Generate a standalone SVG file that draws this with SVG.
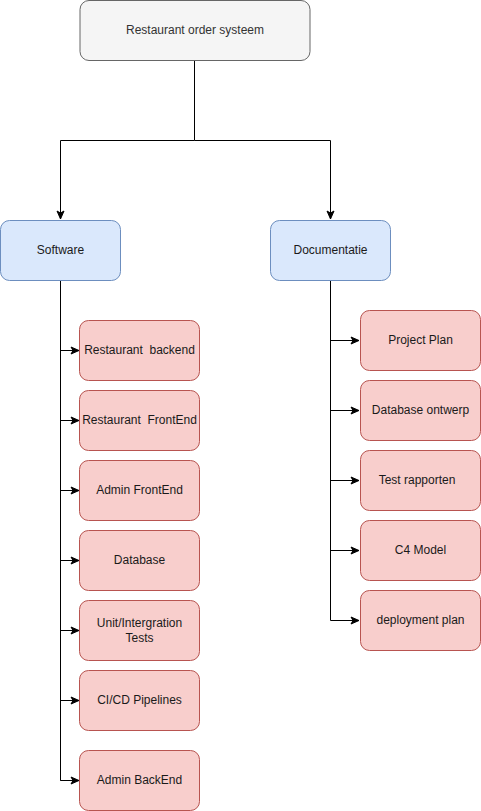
<svg xmlns="http://www.w3.org/2000/svg" width="481" height="811" viewBox="0 0 481 811">
<defs>
<marker id="arr" markerUnits="userSpaceOnUse" markerWidth="10" markerHeight="10" viewBox="0 0 10 10" refX="9" refY="5" orient="auto">
<path d="M1,1.5 L9,5 L1,8.5 L3,5 Z" fill="#000" stroke="#000" stroke-width="1"/>
</marker>
</defs>
<style>
text{font-family:"Liberation Sans",Arial,Helvetica,sans-serif;font-size:12px;text-anchor:middle;dominant-baseline:central;white-space:pre}
.root rect{fill:#f5f5f5;stroke:#666666}
.root text{fill:#333333}
.cat rect{fill:#dae8fc;stroke:#6c8ebf}
.item rect{fill:#f8cecc;stroke:#b85450}
.cat text,.item text{fill:#1a1a1a}
.edge{fill:none;stroke:#000;stroke-width:1}
</style>
<g id="connectors">
<path class="edge" d="M194.5,60.5 V140.5 H60.5 V219" marker-end="url(#arr)"/>
<path class="edge" d="M194.5,140.5 H330.5 V219" marker-end="url(#arr)"/>
<path class="edge" d="M60.5,280.5 V780.5 H79"/>
<path class="edge" d="M60.5,350.5 H79" marker-end="url(#arr)"/>
<path class="edge" d="M60.5,420.5 H79" marker-end="url(#arr)"/>
<path class="edge" d="M60.5,490.5 H79" marker-end="url(#arr)"/>
<path class="edge" d="M60.5,560.5 H79" marker-end="url(#arr)"/>
<path class="edge" d="M60.5,630.5 H79" marker-end="url(#arr)"/>
<path class="edge" d="M60.5,700.5 H79" marker-end="url(#arr)"/>
<path class="edge" d="M60.5,780.5 H79" marker-end="url(#arr)"/>
<path class="edge" d="M330.5,280.5 V620.5"/>
<path class="edge" d="M330.5,340.5 H359" marker-end="url(#arr)"/>
<path class="edge" d="M330.5,410.5 H359" marker-end="url(#arr)"/>
<path class="edge" d="M330.5,480.5 H359" marker-end="url(#arr)"/>
<path class="edge" d="M330.5,550.5 H359" marker-end="url(#arr)"/>
<path class="edge" d="M330.5,620.5 H359" marker-end="url(#arr)"/>
</g>
<g id="root" class="root"><rect x="80" y="0.5" width="230" height="60" rx="9"/><text x="195" y="29.5">Restaurant order systeem</text></g>
<g id="software" class="cat"><rect x="0.5" y="220.5" width="120" height="60" rx="9"/><text x="60.5" y="249.5">Software</text></g>
<g id="documentatie" class="cat"><rect x="270.5" y="220.5" width="120" height="60" rx="9"/><text x="330.5" y="249.5">Documentatie</text></g>
<g id="restaurant-backend" class="item"><rect x="79.5" y="320.5" width="120" height="60" rx="9"/><text x="139.5" y="349.5">Restaurant  backend</text></g>
<g id="restaurant-frontend" class="item"><rect x="79.5" y="390.5" width="120" height="60" rx="9"/><text x="139.5" y="419.5">Restaurant  FrontEnd</text></g>
<g id="admin-frontend" class="item"><rect x="79.5" y="460.5" width="120" height="60" rx="9"/><text x="139.5" y="489.5">Admin FrontEnd</text></g>
<g id="database" class="item"><rect x="79.5" y="530.5" width="120" height="60" rx="9"/><text x="139.5" y="559.5">Database</text></g>
<g id="unit-tests" class="item"><rect x="79.5" y="600.5" width="120" height="60" rx="9"/><text x="139.5" y="622.5">Unit/Intergration</text><text x="139.5" y="637.5">Tests</text></g>
<g id="cicd" class="item"><rect x="79.5" y="670.5" width="120" height="60" rx="9"/><text x="139.5" y="699.5">CI/CD Pipelines</text></g>
<g id="admin-backend" class="item"><rect x="79.5" y="750.5" width="120" height="60" rx="9"/><text x="139.5" y="779.5">Admin BackEnd</text></g>
<g id="project-plan" class="item"><rect x="360.5" y="310.5" width="120" height="60" rx="9"/><text x="420.5" y="339.5">Project Plan</text></g>
<g id="database-ontwerp" class="item"><rect x="360.5" y="380.5" width="120" height="60" rx="9"/><text x="420.5" y="409.5">Database ontwerp</text></g>
<g id="test-rapporten" class="item"><rect x="360.5" y="450.5" width="120" height="60" rx="9"/><text x="417" y="479.5">Test rapporten</text></g>
<g id="c4-model" class="item"><rect x="360.5" y="520.5" width="120" height="60" rx="9"/><text x="420.5" y="549.5">C4 Model</text></g>
<g id="deployment-plan" class="item"><rect x="360.5" y="590.5" width="120" height="60" rx="9"/><text x="420.5" y="619.5">deployment plan</text></g>
</svg>
